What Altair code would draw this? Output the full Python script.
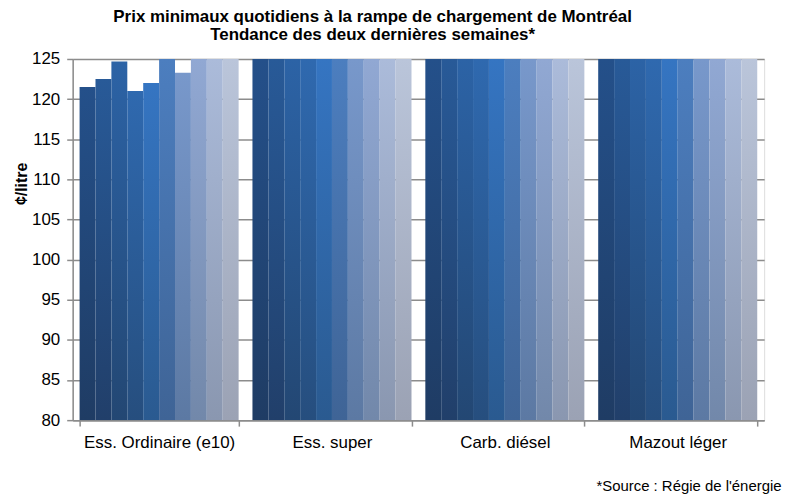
import altair as alt
import pandas as pd

categories = ["Ess. Ordinaire (e10)", "Ess. super", "Carb. diésel", "Mazout léger"]
days = [1, 2, 3, 4, 5, 6, 7, 8, 9, 10]
ordinaire = [121.5, 122.5, 124.7, 121.0, 122.0, 125.6, 123.3, 126.0, 126.4, 126.8]
super_ = [136.5, 136.8, 137.2, 136.4, 136.9, 137.5, 136.2, 137.0, 137.4, 137.8]
diesel = [134.0, 134.2, 134.8, 134.5, 134.9, 135.2, 134.6, 135.0, 135.3, 135.5]
mazout = [128.5, 128.7, 129.0, 128.8, 129.1, 129.5, 128.9, 129.2, 129.6, 129.9]

top_colors = ["#24508A", "#285A98", "#2C63A6", "#2F69AF", "#3575C2",
              "#4C7EBF", "#7898CB", "#91A8D3", "#ABBBDA", "#BAC5DA"]
bottom_colors = ["#1F3C64", "#213F6A", "#234773", "#264E7E", "#2A5A90",
                 "#3F6496", "#5C79A3", "#7288AA", "#8A97B0", "#9BA2B4"]

series = [ordinaire, super_, diesel, mazout]
rows = []
for cat, vals in zip(categories, series):
    for d, v in zip(days, vals):
        rows.append({"categorie": cat, "jour": d, "prix": v})
df = pd.DataFrame(rows)

FONT = "Liberation Sans"

x_enc = alt.X(
    "categorie:N",
    sort=categories,
    scale=alt.Scale(paddingInner=0.08, paddingOuter=0.04),
    axis=alt.Axis(
        title="*Source : Régie de l'énergie",
        titleFont=FONT, titleFontSize=15, titleFontWeight="normal",
        titleColor="#000000", titleAlign="right", titleAnchor="end",
        titleX=712, titleY=71, titleBaseline="alphabetic",
        labelFont=FONT, labelFontSize=17, labelColor="#000000", labelPadding=8,
        labelAngle=0,
        tickBand="extent", tickColor="#8c8c8c", tickSize=6, tickWidth=1.5,
        domainColor="#8c8c8c", domainWidth=1.5, grid=False,
    ),
)
y_enc = alt.Y(
    "prix:Q",
    scale=alt.Scale(domain=[80, 125], zero=False, nice=False, clamp=True),
    axis=alt.Axis(
        title="¢/litre",
        titleFont=FONT, titleFontSize=16, titleFontWeight="bold",
        titleColor="#000000", titleX=-46, titleY=125, titleAngle=-90,
        titleAlign="center", titleBaseline="alphabetic",
        values=list(range(80, 126, 5)),
        labelFont=FONT, labelFontSize=17, labelColor="#000000", labelPadding=7,
        tickColor="#8c8c8c", tickSize=6, tickWidth=1.5,
        domainColor="#8c8c8c", domainWidth=1.5,
        grid=True, gridColor="#8c8c8c", gridWidth=1.5,
    ),
)

layers = []
for d, tc, bc in zip(days, top_colors, bottom_colors):
    grad = alt.Gradient(
        gradient="linear",
        stops=[alt.GradientStop(offset=0, color=tc),
               alt.GradientStop(offset=1, color=bc)],
        x1=0, x2=0, y1=0, y2=1,
    )
    layer = (
        alt.Chart(df)
        .transform_filter(alt.datum.jour == d)
        .mark_bar(color=grad, clip=True)
        .encode(
            x=x_enc,
            xOffset=alt.XOffset("jour:O", scale=alt.Scale(domain=days, paddingInner=0, paddingOuter=0)),
            y=y_enc,
            y2=alt.Y2(datum=80),
        )
    )
    layers.append(layer)

chart = (
    alt.layer(*layers)
    .properties(
        width=695,
        height=363,
        autosize=alt.AutoSizeParams(type="none"),
        padding={"left": 65, "top": 50, "right": 30, "bottom": 75},
        title=alt.TitleParams(
            text=["Prix minimaux quotidiens à la rampe de chargement de Montréal",
                  "Tendance des deux dernières semaines*"],
            font=FONT, fontSize=17, fontWeight="bold", color="#000000",
            anchor="middle", dx=-46, offset=6, lineHeight=18,
        ),
    )
    .configure_view(stroke=None)
    .configure(background="white")
)

chart.save("out.html", embed_options={"renderer": "svg", "actions": False})
